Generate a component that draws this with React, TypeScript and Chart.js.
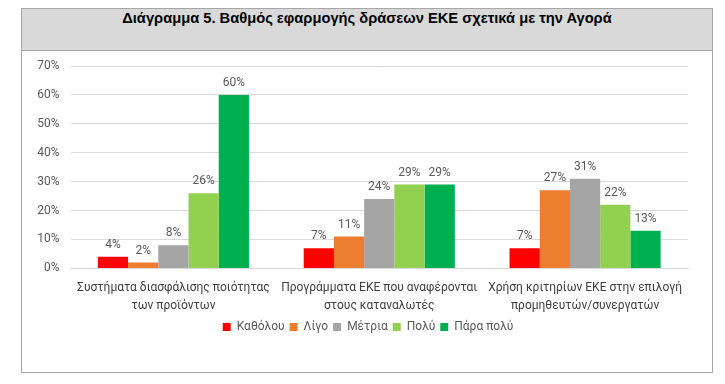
import React, { useEffect, useRef } from "react";
import { Chart, registerables } from "chart.js";

Chart.register(...registerables);

const TITLE = "Διάγραμμα 5. Βαθμός εφαρμογής δράσεων ΕΚΕ σχετικά με την Αγορά";
const categories: string[][] = [
  ["Συστήματα διασφάλισης ποιότητας", "των προϊόντων"],
  ["Προγράμματα ΕΚΕ που αναφέρονται", "στους καταναλωτές"],
  ["Χρήση κριτηρίων ΕΚΕ στην επιλογή", "προμηθευτών/συνεργατών"],
];
const seriesNames = ["Καθόλου", "Λίγο", "Μέτρια", "Πολύ", "Πάρα πολύ"];
const katholou = [4, 7, 7];
const ligo = [2, 11, 27];
const metria = [8, 24, 31];
const poly = [26, 29, 22];
const paraPoly = [60, 29, 13];
const seriesColors = ["#FF0000", "#ED7D31", "#A5A5A5", "#92D050", "#00B050"];
const yMax = 70;
const yStep = 10;

const FONT = "Roboto, 'Open Sans', sans-serif";

const dataLabelPlugin = {
  id: "dataLabels",
  afterDatasetsDraw(chart: any) {
    const ctx = chart.ctx;
    ctx.save();
    ctx.font = `12px ${FONT}`;
    ctx.fillStyle = "#595959";
    ctx.textAlign = "center";
    ctx.textBaseline = "middle";
    chart.data.datasets.forEach((ds: any, di: number) => {
      const meta = chart.getDatasetMeta(di);
      meta.data.forEach((bar: any, i: number) => {
        ctx.fillText(`${ds.data[i]}%`, bar.x, bar.y - 12);
      });
    });
    ctx.restore();
  },
};

// Centre the legend on the whole canvas rather than the padded area
const legendCenterPlugin = {
  id: "legendCenter",
  afterLayout(chart: any) {
    const lg = chart.legend;
    if (lg) {
      lg.left = 3;
      lg.right = chart.width;
    }
  },
};

export default function App() {
  const ref = useRef<HTMLCanvasElement | null>(null);
  useEffect(() => {
    if (!ref.current) return;
    const values = [katholou, ligo, metria, poly, paraPoly];
    const chart = new Chart(ref.current, {
      type: "bar",
      data: {
        labels: categories,
        datasets: values.map((v, i) => ({
          label: seriesNames[i],
          data: v,
          backgroundColor: seriesColors[i],
          borderWidth: 0,
          categoryPercentage: 0.734,
          barPercentage: 1,
        })),
      },
      options: {
        animation: false,
        responsive: false,
        maintainAspectRatio: false,
        layout: { padding: { left: 0, right: 23, top: 15, bottom: 28 } },
        scales: {
          x: {
            afterFit: (s: any) => {
              s.height = 47.6;
            },
            grid: { display: false, drawTicks: false },
            border: { display: true, color: "#D9D9D9", width: 1 },
            ticks: {
              color: "#404040",
              font: { family: FONT, size: 12, lineHeight: 1.5 },
              padding: 11,
              maxRotation: 0,
              autoSkip: false,
            },
          },
          y: {
            min: 0,
            max: yMax,
            afterFit: (s: any) => {
              s.width = 48.5;
              s.paddingTop = 15;
              s.paddingBottom = 0;
            },
            grid: { color: "#D9D9D9", drawTicks: false },
            border: { display: false },
            ticks: {
              stepSize: yStep,
              color: "#595959",
              padding: 11,
              font: { family: FONT, size: 12 },
              callback: (v: any) => `${v}%`,
            },
          },
        },
        plugins: {
          legend: {
            position: "bottom",
            labels: {
              boxWidth: 8,
              boxHeight: 8,
              padding: 5,
              color: "#595959",
              font: { family: FONT, size: 12 },
            },
          },
          tooltip: { enabled: false },
        },
      },
      plugins: [dataLabelPlugin, legendCenterPlugin],
    });
    return () => chart.destroy();
  }, []);

  return (
    <div
      style={{
        marginLeft: 13,
        width: 692,
        height: 365,
        boxSizing: "border-box",
        border: "1px solid #A6A6A6",
        background: "#fff",
      }}
    >
      <div
        style={{
          height: 42,
          boxSizing: "border-box",
          background: "#D9D9D9",
          borderBottom: "1px solid #A6A6A6",
          textAlign: "center",
          font: "bold 14.7px 'Liberation Sans', Arial, sans-serif",
          lineHeight: "18px",
          color: "#000",
        }}
      >
        {TITLE}
      </div>
      <canvas ref={ref} width={689} height={320} style={{ display: "block" }} />
    </div>
  );
}
